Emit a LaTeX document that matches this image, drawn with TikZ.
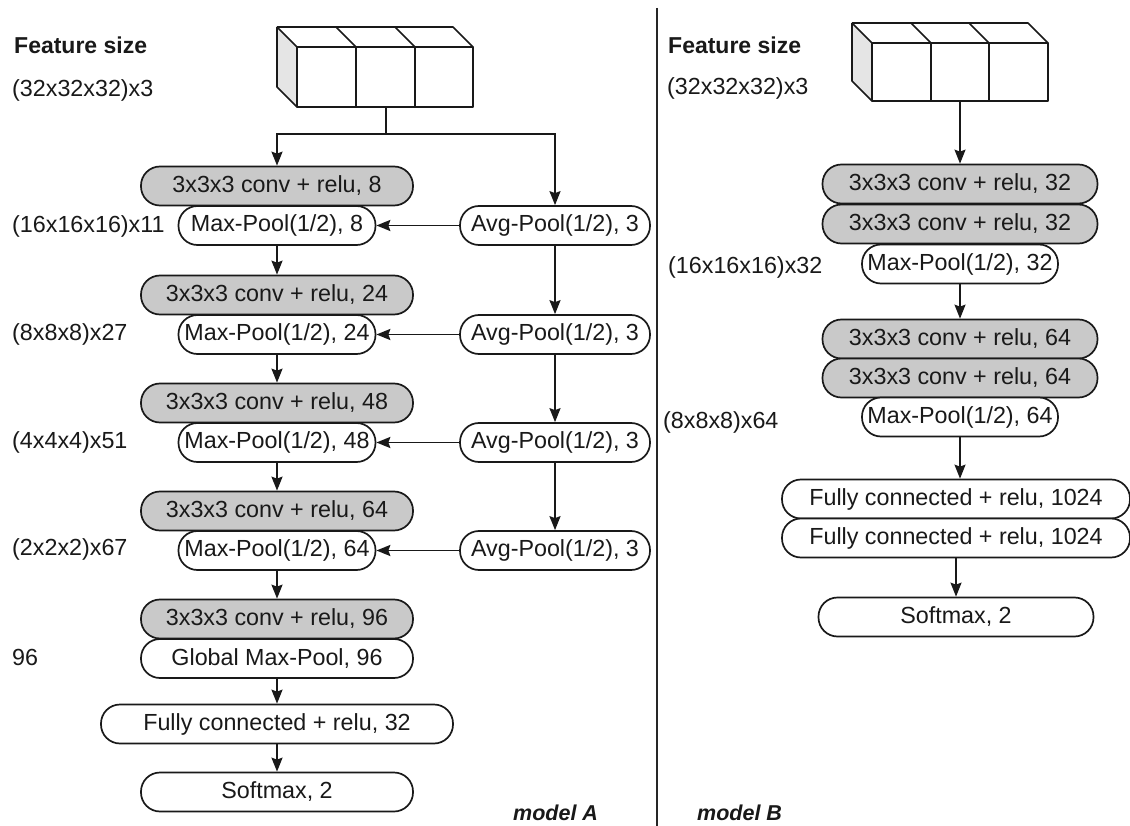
\documentclass[tikz,border=0pt]{standalone}
\usepackage{fontspec}
\setmainfont{Liberation Sans}
\usetikzlibrary{arrows.meta,calc}
\begin{document}
\begin{tikzpicture}[x=1pt,y=-1pt,
  every node/.style={font=\fontsize{23.3}{28}\selectfont},
  blk/.style={draw=black!90, line width=1.7pt, rounded corners=19pt, minimum height=39pt, inner sep=0pt, text=black!90},
  convbox/.style={blk, fill=black!21},
  poolbox/.style={blk, fill=white},
  arr/.style={draw=black!90, line width=1.8pt, -{Stealth[length=14pt,width=11pt,inset=2pt]}},
  plainline/.style={draw=black!90, line width=1.8pt},
  cubeline/.style={draw=black!90, line width=1.6pt, line join=round},
  lbl/.style={anchor=west, inner sep=0pt, text=black!90},
  ttl/.style={anchor=west, inner sep=0pt, font=\fontsize{23}{28}\selectfont\bfseries, text=black!90},
  mdl/.style={anchor=west, inner sep=0pt, font=\fontsize{21.5}{26}\selectfont\bfseries\itshape, text=black!90},
  ]
\useasboundingbox (0,0) rectangle (1130,826);
\fill[white] (0,0) rectangle (1130,826);

% divider
\draw[draw=black!85, line width=1.5pt] (657,8) -- (657,826);

% ---------------- model A ----------------
\node[ttl] (fsA) at (14,45) {Feature size};
\node[lbl] (inA) at (12,90) {(32x32x32)x3};

% cube A
\fill[black!10] (277,27) -- (297,47) -- (297,107) -- (277,87) -- cycle;
\draw[cubeline] (277,27) -- (453,27) -- (473,47);
\draw[cubeline] (277,27) -- (297,47);
\draw[cubeline] (336,27) -- (356,47);
\draw[cubeline] (395,27) -- (415,47);
\draw[cubeline] (277,27) -- (277,87) -- (297,107);
\draw[cubeline] (297,47) rectangle (473,107);
\draw[cubeline] (356,47) -- (356,107);
\draw[cubeline] (415,47) -- (415,107);
\coordinate (cubeAb) at (386,107);
\coordinate (splitA) at (386,134);

\node[convbox, minimum width=272pt] (c8)  at (277,186) {3x3x3 conv + relu, 8};
\node[poolbox, minimum width=197pt] (m8)  at (277,225.5) {Max-Pool(1/2), 8};
\node[convbox, minimum width=272pt] (c24) at (277,295) {3x3x3 conv + relu, 24};
\node[poolbox, minimum width=197pt] (m24) at (277,334.5) {Max-Pool(1/2), 24};
\node[convbox, minimum width=272pt] (c48) at (277,403) {3x3x3 conv + relu, 48};
\node[poolbox, minimum width=197pt] (m48) at (277,442.5) {Max-Pool(1/2), 48};
\node[convbox, minimum width=272pt] (c64) at (277,511) {3x3x3 conv + relu, 64};
\node[poolbox, minimum width=197pt] (m64) at (277,550.5) {Max-Pool(1/2), 64};
\node[convbox, minimum width=272pt] (c96) at (277,619) {3x3x3 conv + relu, 96};
\node[poolbox, minimum width=272pt] (gmp) at (277,658.5) {Global Max-Pool, 96};
\node[poolbox, minimum width=352pt] (fcA) at (277,724) {Fully connected + relu, 32};
\node[poolbox, minimum width=272pt] (smA) at (277,792) {Softmax, 2};

\node[poolbox, minimum width=190pt] (a1) at (555,225.5) {Avg-Pool(1/2), 3};
\node[poolbox, minimum width=190pt] (a2) at (555,334.5) {Avg-Pool(1/2), 3};
\node[poolbox, minimum width=190pt] (a3) at (555,442.5) {Avg-Pool(1/2), 3};
\node[poolbox, minimum width=190pt] (a4) at (555,550.5) {Avg-Pool(1/2), 3};

\node[lbl] (l1) at (12,226) {(16x16x16)x11};
\node[lbl] (l2) at (12,334) {(8x8x8)x27};
\node[lbl] (l3) at (12,442) {(4x4x4)x51};
\node[lbl] (l4) at (12,549) {(2x2x2)x67};
\node[lbl] (l5) at (12,657) {96};

\node[mdl] (mA) at (513,813) {model A};

\draw[plainline] (cubeAb) -- (splitA);
\draw[arr] (splitA) -| (c8.north);
\draw[arr] (splitA) -| (a1.north);
\draw[arr] (m8.south) -- (c24.north);
\draw[arr] (m24.south) -- (c48.north);
\draw[arr] (m48.south) -- (c64.north);
\draw[arr] (m64.south) -- (c96.north);
\draw[arr] (gmp.south) -- (fcA.north);
\draw[arr] (fcA.south) -- (smA.north);
\draw[arr] (a1.south) -- (a2.north);
\draw[arr] (a2.south) -- (a3.north);
\draw[arr] (a3.south) -- (a4.north);
\draw[arr] (a1.west) -- (m8.east);
\draw[arr] (a2.west) -- (m24.east);
\draw[arr] (a3.west) -- (m48.east);
\draw[arr] (a4.west) -- (m64.east);

% ---------------- model B ----------------
\node[ttl] (fsB) at (668,45) {Feature size};
\node[lbl] (inB) at (667,88) {(32x32x32)x3};

% cube B
\fill[black!10] (852,23) -- (872,43) -- (872,101) -- (852,81) -- cycle;
\draw[cubeline] (852,23) -- (1028,23) -- (1048,43);
\draw[cubeline] (852,23) -- (872,43);
\draw[cubeline] (911,23) -- (931,43);
\draw[cubeline] (969,23) -- (989,43);
\draw[cubeline] (852,23) -- (852,81) -- (872,101);
\draw[cubeline] (872,43) rectangle (1048,101);
\draw[cubeline] (931,43) -- (931,101);
\draw[cubeline] (989,43) -- (989,101);
\coordinate (cubeBb) at (960,101);

\node[convbox, minimum width=275pt] (b1) at (960,184) {3x3x3 conv + relu, 32};
\node[convbox, minimum width=275pt] (b2) at (960,224) {3x3x3 conv + relu, 32};
\node[poolbox, minimum width=196pt] (bm1) at (960,264) {Max-Pool(1/2), 32};
\node[convbox, minimum width=275pt] (b3) at (960,339) {3x3x3 conv + relu, 64};
\node[convbox, minimum width=275pt] (b4) at (960,378) {3x3x3 conv + relu, 64};
\node[poolbox, minimum width=196pt] (bm2) at (960,417) {Max-Pool(1/2), 64};
\node[poolbox, minimum width=348pt] (bf1) at (956,499) {Fully connected + relu, 1024};
\node[poolbox, minimum width=348pt] (bf2) at (956,538) {Fully connected + relu, 1024};
\node[poolbox, minimum width=275pt] (bsm) at (956,617) {Softmax, 2};

\node[lbl] (lb1) at (668,267) {(16x16x16)x32};
\node[lbl] (lb2) at (663,422) {(8x8x8)x64};

\node[mdl] (mB) at (697,813) {model B};

\draw[arr] (cubeBb) -- (b1.north);
\draw[arr] (bm1.south) -- (b3.north);
\draw[arr] (bm2.south) -- (bm2.south |- bf1.north);
\draw[arr] (bf2.south) -- (bsm.north);
\end{tikzpicture}
\end{document}
